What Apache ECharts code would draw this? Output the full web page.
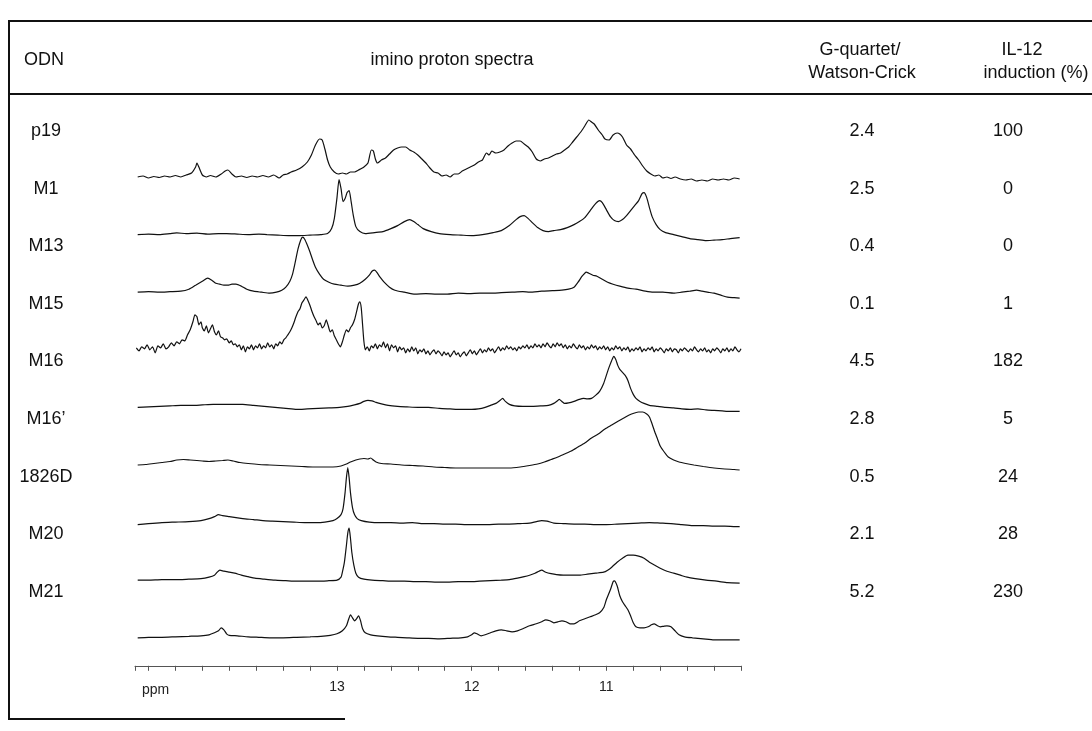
<!DOCTYPE html>
<html>
<head>
<meta charset="utf-8">
<script src="https://cdn.jsdelivr.net/npm/echarts@6/dist/echarts.min.js"></script>
<style>
  html, body { margin: 0; background: #fff; }
  #chart { width: 1092px; height: 731px; }
</style>
</head>
<body>
<div id="chart"></div>
<script>
// table rows
const rowNames = ['p19', 'M1', 'M13', 'M15', 'M16', 'M16\u2019', '1826D', 'M20', 'M21']
const gqRatio = ['2.4', '2.5', '0.4', '0.1', '4.5', '2.8', '0.5', '2.1', '5.2']
const il12 = ['100', '0', '0', '1', '182', '5', '24', '28', '230']
const ppmLabels = [13, 12, 11]

// spectra: [ppm, intensity]
const p19 = [[14.48,0],[14.44,1],[14.40,-1],[14.36,0.5],[14.32,-0.5],[14.28,1],[14.24,0],[14.20,1.5],[14.16,0],[14.12,2],[14.08,4],[14.05,10],[14.04,14],[14.02,8],[14.00,2],[13.97,0],[13.94,1.5],[13.90,0],[13.86,3],[13.83,6],[13.81,7],[13.78,3],[13.75,0],[13.71,1],[13.67,-0.5],[13.63,1],[13.59,0],[13.55,1.5],[13.51,0],[13.47,2],[13.43,-1],[13.40,2],[13.37,3],[13.34,5],[13.30,7],[13.26,10],[13.22,15],[13.19,22],[13.16,32],[13.13,38],[13.11,37],[13.09,28],[13.07,17],[13.05,10],[13.02,5],[12.99,3],[12.96,4],[12.93,3],[12.90,5],[12.87,5],[12.84,7],[12.80,10],[12.77,14],[12.745,27],[12.73,26],[12.715,18],[12.70,14],[12.67,17],[12.64,19],[12.61,23],[12.58,27],[12.55,29],[12.52,30],[12.49,30],[12.46,27],[12.43,25],[12.40,22],[12.37,18],[12.34,14],[12.31,9],[12.28,5],[12.25,4],[12.22,1],[12.19,2],[12.16,0],[12.13,3],[12.10,3],[12.07,6],[12.04,8],[12.01,10],[11.98,12],[11.95,15],[11.92,17],[11.89,24],[11.87,22],[11.85,26],[11.82,24],[11.79,25],[11.76,27],[11.73,31],[11.70,34],[11.67,36],[11.64,36],[11.61,33],[11.58,30],[11.55,25],[11.52,18],[11.49,16],[11.46,18],[11.43,19],[11.40,21],[11.37,23],[11.34,24],[11.31,27],[11.28,30],[11.25,35],[11.22,40],[11.19,45],[11.16,51],[11.13,57],[11.11,55],[11.09,53],[11.06,47],[11.03,42],[11.01,38],[10.98,37],[10.95,42],[10.92,44],[10.90,43],[10.88,40],[10.85,32],[10.82,28],[10.79,22],[10.76,17],[10.73,11],[10.70,6],[10.67,3],[10.64,1],[10.61,2],[10.58,-1],[10.55,0],[10.52,-1.5],[10.49,0],[10.45,-2],[10.41,-3],[10.37,-2],[10.33,-4],[10.29,-3],[10.25,-4],[10.21,-2],[10.17,-3],[10.13,-2],[10.09,-3],[10.05,-1],[10.01,-2]]
const m1 = [[14.48,0],[14.40,0.5],[14.32,0],[14.24,1],[14.19,1.7],[14.12,1],[14.04,1.5],[13.96,0.5],[13.88,1],[13.82,1],[13.74,0.5],[13.66,0],[13.58,0.5],[13.52,0],[13.44,-0.5],[13.36,-1],[13.28,-1],[13.20,-0.5],[13.12,0],[13.07,1],[13.04,6],[13.02,16],[13.00,37],[12.985,55],[12.97,46],[12.955,33],[12.94,36],[12.925,42],[12.91,44],[12.895,33],[12.88,20],[12.86,8],[12.83,3],[12.79,1],[12.72,2],[12.66,3],[12.60,6],[12.55,9],[12.50,13],[12.46,15],[12.43,13],[12.40,10],[12.36,6],[12.30,3],[12.24,1],[12.16,0],[12.08,-0.5],[12.00,-1],[11.92,0],[11.84,2],[11.78,4],[11.72,9],[11.67,15],[11.64,18],[11.61,19],[11.58,16],[11.55,12],[11.51,7],[11.47,4],[11.43,3],[11.39,4],[11.34,5],[11.29,7],[11.24,10],[11.20,13],[11.16,17],[11.12,24],[11.08,31],[11.05,34],[11.03,32],[11.00,25],[10.97,18],[10.94,14],[10.91,13],[10.88,15],[10.85,19],[10.82,24],[10.79,29],[10.76,34],[10.735,41],[10.72,42],[10.70,37],[10.68,27],[10.66,18],[10.63,10],[10.60,5],[10.56,2],[10.50,0],[10.44,-2],[10.38,-4],[10.32,-5],[10.26,-6],[10.20,-5.5],[10.14,-5],[10.08,-4],[10.01,-3]]
const m13 = [[14.48,0],[14.40,0.5],[14.32,0],[14.24,0.5],[14.16,1],[14.10,3],[14.05,7],[14.00,11],[13.96,14],[13.93,12],[13.90,9],[13.87,8],[13.84,7],[13.81,7],[13.78,8],[13.75,8],[13.71,6],[13.67,3],[13.62,1],[13.56,0],[13.50,-1],[13.45,0],[13.41,2],[13.38,5],[13.35,11],[13.33,18],[13.31,30],[13.29,43],[13.27,52],[13.255,55],[13.24,53],[13.22,47],[13.20,40],[13.18,32],[13.16,25],[13.13,18],[13.10,13],[13.06,10],[13.02,8],[12.97,7],[12.92,6],[12.87,7],[12.83,9],[12.79,13],[12.76,17],[12.74,21],[12.72,22],[12.70,19],[12.68,15],[12.65,10],[12.61,5],[12.57,2],[12.50,0],[12.42,-2],[12.34,-1.5],[12.26,-2],[12.18,-2],[12.10,-1],[12.02,-1.5],[11.94,-1],[11.87,-1],[11.78,-0.5],[11.70,0],[11.62,0.5],[11.57,0],[11.48,1],[11.40,1.5],[11.33,2],[11.28,3],[11.24,5],[11.21,10],[11.18,16],[11.16,19],[11.15,20],[11.13,19],[11.10,17],[11.07,16],[11.03,13],[10.99,10],[10.95,8],[10.90,6],[10.84,4],[10.78,3],[10.71,1],[10.65,0],[10.58,0],[10.50,-1],[10.44,0],[10.38,1],[10.33,2],[10.29,1],[10.25,0],[10.20,-1],[10.15,-3],[10.10,-5],[10.05,-5.5],[10.01,-6]]
const m15 = [[14.49,2],[14.47,-1],[14.45,3],[14.43,1],[14.41,5],[14.39,0],[14.37,3],[14.35,-3],[14.33,4],[14.31,2],[14.29,6],[14.27,1],[14.25,3],[14.23,7],[14.21,4],[14.19,8],[14.17,6],[14.15,10],[14.13,9],[14.11,15],[14.09,20],[14.07,28],[14.055,35],[14.04,33],[14.025,25],[14.01,28],[14.00,22],[13.985,19],[13.97,24],[13.955,17],[13.94,21],[13.925,25],[13.91,18],[13.895,15],[13.88,19],[13.865,13],[13.85,12],[13.835,10],[13.82,11],[13.80,7],[13.785,9],[13.77,5],[13.755,6],[13.74,3],[13.725,5],[13.71,0],[13.695,4],[13.68,-2],[13.665,3],[13.65,1],[13.635,5],[13.62,0],[13.605,4],[13.59,2],[13.575,6],[13.56,1],[13.545,4],[13.53,2],[13.515,7],[13.50,3],[13.485,5],[13.47,1],[13.455,6],[13.44,4],[13.425,8],[13.41,6],[13.395,10],[13.38,12],[13.365,15],[13.35,18],[13.335,22],[13.32,27],[13.305,33],[13.29,38],[13.275,41],[13.26,47],[13.245,50],[13.23,53],[13.215,49],[13.20,44],[13.185,38],[13.17,33],[13.155,29],[13.14,25],[13.125,27],[13.11,22],[13.095,24],[13.08,30],[13.065,24],[13.05,18],[13.035,20],[13.02,14],[13.005,10],[12.99,6],[12.975,3],[12.96,8],[12.945,15],[12.93,20],[12.915,18],[12.90,22],[12.885,25],[12.87,30],[12.855,38],[12.84,46],[12.83,48],[12.82,42],[12.81,25],[12.80,8],[12.79,0],[12.775,3],[12.76,-1],[12.745,4],[12.73,2],[12.715,6],[12.70,1],[12.685,5],[12.67,3],[12.655,8],[12.64,2],[12.625,6],[12.61,-1],[12.595,5],[12.58,2],[12.565,4],[12.55,-2],[12.535,3],[12.52,0],[12.505,2],[12.49,-3],[12.475,1],[12.46,-2],[12.445,3],[12.43,-1],[12.415,2],[12.40,-4],[12.385,0],[12.37,-2],[12.355,1],[12.34,-4],[12.325,-1],[12.31,-5],[12.295,-2],[12.28,0],[12.265,-4],[12.25,-1],[12.235,-3],[12.22,-6],[12.205,-2],[12.19,-5],[12.175,-3],[12.16,-7],[12.145,-4],[12.13,-1],[12.115,-5],[12.10,-3],[12.085,-7],[12.07,-4],[12.055,-2],[12.04,-6],[12.025,-3],[12.01,0],[11.995,-4],[11.98,-1],[11.965,-5],[11.95,-2],[11.935,1],[11.92,-3],[11.905,0],[11.89,-2],[11.875,2],[11.86,-1],[11.845,1],[11.83,-3],[11.815,0],[11.80,3],[11.785,-1],[11.77,2],[11.755,0],[11.74,4],[11.725,1],[11.71,3],[11.695,0],[11.68,2],[11.665,-1],[11.65,3],[11.635,1],[11.62,4],[11.605,2],[11.59,5],[11.575,1],[11.56,4],[11.545,2],[11.53,6],[11.515,3],[11.50,5],[11.485,2],[11.47,6],[11.455,3],[11.44,7],[11.425,4],[11.41,2],[11.395,6],[11.38,3],[11.365,7],[11.35,4],[11.335,6],[11.32,2],[11.305,5],[11.29,1],[11.275,4],[11.26,2],[11.245,6],[11.23,3],[11.215,1],[11.20,5],[11.185,2],[11.17,4],[11.155,0],[11.14,3],[11.125,1],[11.11,5],[11.095,2],[11.08,4],[11.065,0],[11.05,3],[11.035,1],[11.02,4],[11.005,0],[10.99,3],[10.975,-1],[10.96,2],[10.945,0],[10.93,4],[10.915,1],[10.90,3],[10.885,-1],[10.87,2],[10.855,0],[10.84,3],[10.825,-2],[10.81,1],[10.795,-1],[10.78,2],[10.765,0],[10.75,3],[10.735,-2],[10.72,1],[10.705,-1],[10.69,2],[10.675,0],[10.66,3],[10.645,-2],[10.63,1],[10.615,-1],[10.60,2],[10.585,0],[10.57,-3],[10.555,1],[10.54,-1],[10.525,2],[10.51,-2],[10.495,1],[10.48,0],[10.465,-3],[10.45,1],[10.435,-1],[10.42,2],[10.405,0],[10.39,-2],[10.375,1],[10.36,-1],[10.345,3],[10.33,0],[10.315,-2],[10.30,1],[10.285,-1],[10.27,2],[10.255,-2],[10.24,0],[10.225,-3],[10.21,1],[10.195,-1],[10.18,2],[10.165,0],[10.15,-3],[10.135,1],[10.12,-1],[10.105,2],[10.09,-2],[10.075,1],[10.06,-1],[10.045,3],[10.03,0],[10.015,-2],[10.00,1]]
const m16 = [[14.48,0],[14.40,0.5],[14.32,1],[14.24,1.5],[14.16,2],[14.08,2],[14.00,2.5],[13.92,3],[13.84,3],[13.76,3],[13.70,3],[13.62,2],[13.54,1],[13.46,0],[13.38,-1],[13.30,-2],[13.22,-1.5],[13.14,-1],[13.06,-0.5],[12.98,0],[12.92,1],[12.87,2.5],[12.83,4],[12.80,6],[12.77,7],[12.74,6.5],[12.71,5],[12.67,3.5],[12.62,2],[12.55,1],[12.48,0.5],[12.40,0],[12.32,0],[12.24,-1],[12.16,-1.5],[12.08,-2],[12.00,-2],[11.95,-1.5],[11.90,0],[11.86,2],[11.82,4],[11.79,7],[11.77,9],[11.75,6],[11.72,3],[11.68,1.5],[11.62,1],[11.55,1],[11.48,1.5],[11.43,2],[11.39,4],[11.36,7],[11.35,8],[11.33,6],[11.31,4],[11.28,4.5],[11.24,6],[11.20,8],[11.17,9],[11.14,8.5],[11.11,9],[11.08,12],[11.05,16],[11.02,24],[11.00,32],[10.98,40],[10.96,47],[10.945,51],[10.93,48],[10.915,42],[10.90,38],[10.88,35],[10.86,32],[10.84,27],[10.82,19],[10.80,13],[10.78,9],[10.75,6],[10.72,4],[10.68,2],[10.62,1],[10.56,0],[10.50,-0.5],[10.44,-1.5],[10.38,-2],[10.32,-1.5],[10.26,-2.5],[10.20,-3],[10.14,-3.5],[10.08,-4],[10.01,-4]]
const m16p = [[14.48,0],[14.42,0.5],[14.36,1.5],[14.30,2.5],[14.24,3.5],[14.19,5],[14.14,5.5],[14.09,5],[14.04,4.5],[14.00,4],[13.95,3.5],[13.90,4],[13.85,4.5],[13.81,5],[13.77,4],[13.72,2.5],[13.66,1.5],[13.58,0.5],[13.50,0],[13.42,-0.5],[13.34,-1],[13.26,-1.5],[13.18,-2],[13.10,-2],[13.03,-2],[12.97,-1],[12.93,1],[12.90,3],[12.86,5],[12.83,6],[12.80,6.5],[12.77,6],[12.75,7],[12.73,5],[12.71,3],[12.67,1.5],[12.60,1],[12.52,0],[12.44,-0.5],[12.36,-1],[12.28,-2],[12.20,-2.5],[12.12,-3],[12.04,-3],[11.96,-3],[11.88,-3],[11.80,-3],[11.72,-3],[11.64,-2],[11.57,-0.5],[11.51,1],[11.46,3],[11.41,5.5],[11.36,8],[11.31,11],[11.26,14],[11.21,18],[11.16,22],[11.11,27],[11.06,31],[11.01,36],[10.96,40],[10.91,44],[10.87,47],[10.83,50],[10.79,52],[10.76,53],[10.73,53],[10.70,51],[10.68,48],[10.66,41],[10.64,33],[10.62,26],[10.60,19],[10.57,13],[10.54,8],[10.50,5],[10.46,3],[10.41,1.5],[10.35,0],[10.28,-1.5],[10.20,-3],[10.12,-4],[10.05,-4.5],[10.01,-5]]
const d1826 = [[14.48,-2],[14.40,-1],[14.30,0],[14.20,0.5],[14.10,1],[14.01,2],[13.95,4],[13.91,6],[13.88,8],[13.85,7],[13.80,6],[13.75,5],[13.70,4],[13.62,3],[13.55,2],[13.48,1.5],[13.40,1],[13.32,0.5],[13.24,0],[13.16,0],[13.09,0.5],[13.03,2],[13.00,4],[12.97,8],[12.955,14],[12.94,30],[12.93,45],[12.92,55],[12.91,45],[12.90,30],[12.885,15],[12.87,8],[12.85,4],[12.82,2],[12.76,0.5],[12.68,0],[12.60,0],[12.52,-0.5],[12.44,0],[12.36,-1],[12.28,-1],[12.20,-1.5],[12.12,-1.5],[12.04,-2],[11.96,-2],[11.88,-2],[11.80,-1.5],[11.72,-1.5],[11.64,-1],[11.57,-0.5],[11.52,1],[11.48,2],[11.44,1.5],[11.39,-0.5],[11.32,-1],[11.24,-1.5],[11.16,-1.5],[11.08,-2],[11.00,-2],[10.92,-1.5],[10.84,-1],[10.76,-0.5],[10.68,0],[10.60,-0.5],[10.52,-1],[10.44,-2],[10.36,-3],[10.28,-3],[10.20,-3.5],[10.12,-3.5],[10.04,-4],[10.01,-4]]
const m20 = [[14.48,0],[14.40,0],[14.30,0.5],[14.20,0.5],[14.10,1],[14.01,1.5],[13.95,3],[13.91,5],[13.89,8],[13.87,10],[13.84,9],[13.80,8],[13.76,7],[13.71,5],[13.66,3.5],[13.61,2],[13.54,1],[13.46,0],[13.38,-0.5],[13.30,-1],[13.22,-1],[13.14,-1],[13.06,-0.5],[13.00,0],[12.97,3],[12.96,8],[12.945,18],[12.93,35],[12.92,47],[12.91,52],[12.90,42],[12.89,28],[12.875,15],[12.86,7],[12.84,3],[12.80,1],[12.74,0],[12.66,-0.5],[12.58,-1],[12.50,-1],[12.42,-1.5],[12.34,-1.5],[12.26,-2],[12.18,-2],[12.10,-1.5],[12.02,-1.5],[11.94,-1],[11.86,-0.5],[11.78,0],[11.72,0.5],[11.66,2],[11.61,3.5],[11.57,5],[11.53,7],[11.50,9],[11.48,10],[11.45,8],[11.41,6.5],[11.37,5.5],[11.32,5],[11.26,5],[11.20,5],[11.14,6],[11.08,7],[11.02,8],[10.99,10],[10.96,13],[10.92,18],[10.88,22],[10.84,25],[10.80,25],[10.76,24],[10.72,22],[10.68,18],[10.64,15],[10.60,12],[10.55,9],[10.50,7],[10.45,5],[10.40,3],[10.34,1.5],[10.26,0],[10.18,-1],[10.10,-2.5],[10.01,-3]]
const m21 = [[14.48,0],[14.40,0.5],[14.30,0.5],[14.20,1],[14.10,1.5],[14.01,2],[13.95,3],[13.91,5],[13.88,7],[13.86,10],[13.84,8],[13.82,4],[13.80,2.5],[13.74,2],[13.66,1],[13.58,0.5],[13.50,0],[13.40,0],[13.30,0.5],[13.20,1],[13.12,1.5],[13.05,2.5],[13.00,4],[12.96,7],[12.93,12],[12.915,18],[12.90,23],[12.885,20],[12.87,17],[12.855,19],[12.84,22],[12.825,17],[12.81,9],[12.79,5],[12.75,3],[12.70,2],[12.62,1],[12.55,0.5],[12.48,0],[12.40,-0.5],[12.32,-0.5],[12.24,-1],[12.16,-0.5],[12.08,0],[12.03,1],[12.00,3],[11.98,5],[11.96,4],[11.93,2],[11.90,3],[11.86,5],[11.82,7],[11.78,8],[11.74,7],[11.70,6],[11.66,7],[11.62,9],[11.57,12],[11.52,14],[11.48,16],[11.45,18],[11.42,17],[11.39,15],[11.36,16],[11.33,17],[11.30,16],[11.27,14],[11.24,14],[11.20,17],[11.16,19],[11.12,21],[11.08,23],[11.05,25],[11.02,30],[11.00,38],[10.97,48],[10.95,56],[10.94,57],[10.92,52],[10.90,42],[10.88,36],[10.86,32],[10.84,28],[10.82,22],[10.80,15],[10.78,11],[10.75,10],[10.72,10],[10.69,11],[10.665,13],[10.645,14],[10.62,12],[10.60,11],[10.575,11.5],[10.55,12],[10.52,11],[10.49,7],[10.46,3],[10.42,1],[10.36,0],[10.28,-1],[10.20,-2],[10.10,-2],[10.01,-2]]

const spectra = [p19, m1, m13, m15, m16, m16p, d1826, m20, m21]

const chart = echarts.init(document.getElementById('chart'))

const firstBase = 177   // baseline of the top spectrum
const rowStep = 57.6
const font = '"Liberation Sans", Arial, sans-serif'
const last = spectra.length - 1

const grids = [], xAxes = [], yAxes = [], series = [], texts = []
const cell = (text, x, y, align) => ({
  type: 'text', style: { text, x, y, textAlign: align || 'center', textVerticalAlign: 'middle', font: '18px ' + font, fill: '#111' }
})

spectra.forEach((d, i) => {
  const base = firstBase + i * rowStep
  grids.push({ left: 135, right: 351, top: base - 60, height: 60 })
  xAxes.push({
    gridIndex: i, type: 'value', inverse: true, min: 10, max: 14.5, interval: 0.2,
    show: i === last,
    offset: i === last ? 28 : 0,
    axisLine: { onZero: false, lineStyle: { color: '#555', width: 1 } },
    axisTick: { length: 5, lineStyle: { color: '#555' } },
    axisLabel: {
      margin: 14, color: '#222', fontSize: 14, fontFamily: font,
      formatter: v => {
        const r = Math.round(v)
        return Math.abs(v - r) < 1e-6 && ppmLabels.includes(r) ? String(r) : ''
      }
    },
    splitLine: { show: false }
  })
  yAxes.push({ gridIndex: i, type: 'value', min: 0, max: 60, show: false })
  series.push({
    type: 'line', xAxisIndex: i, yAxisIndex: i, data: d,
    showSymbol: false, clip: false, smooth: 0.2, silent: true,
    lineStyle: { color: '#111', width: 1.2 }
  })
  const ty = base - 46
  texts.push(cell(rowNames[i], 46, ty))
  texts.push(cell(gqRatio[i], 862, ty))
  texts.push(cell(il12[i], 1008, ty))
})

const ln = (x1, y1, x2, y2, w) => ({
  type: 'line', shape: { x1, y1, x2, y2 }, style: { stroke: '#111', lineWidth: w || 2 }
})

chart.setOption({
  animation: false,
  grid: grids,
  xAxis: xAxes,
  yAxis: yAxes,
  series: series,
  graphic: [
    ln(8, 21, 1092, 21, 2),
    ln(9, 21, 9, 720, 2),
    ln(8, 94, 1092, 94, 2),
    ln(8, 719, 345, 719, 2),
    cell('ODN', 24, 60, 'left'),
    cell('imino proton spectra', 452, 60),
    cell('G-quartet/', 860, 50),
    cell('Watson-Crick', 862, 73),
    cell('IL-12', 1022, 50),
    cell('induction (%)', 1036, 73),
    { type: 'text', style: { text: 'ppm', x: 142, y: 690, textVerticalAlign: 'middle', font: '14px ' + font, fill: '#222' } }
  ].concat(texts)
})
</script>
</body>
</html>
